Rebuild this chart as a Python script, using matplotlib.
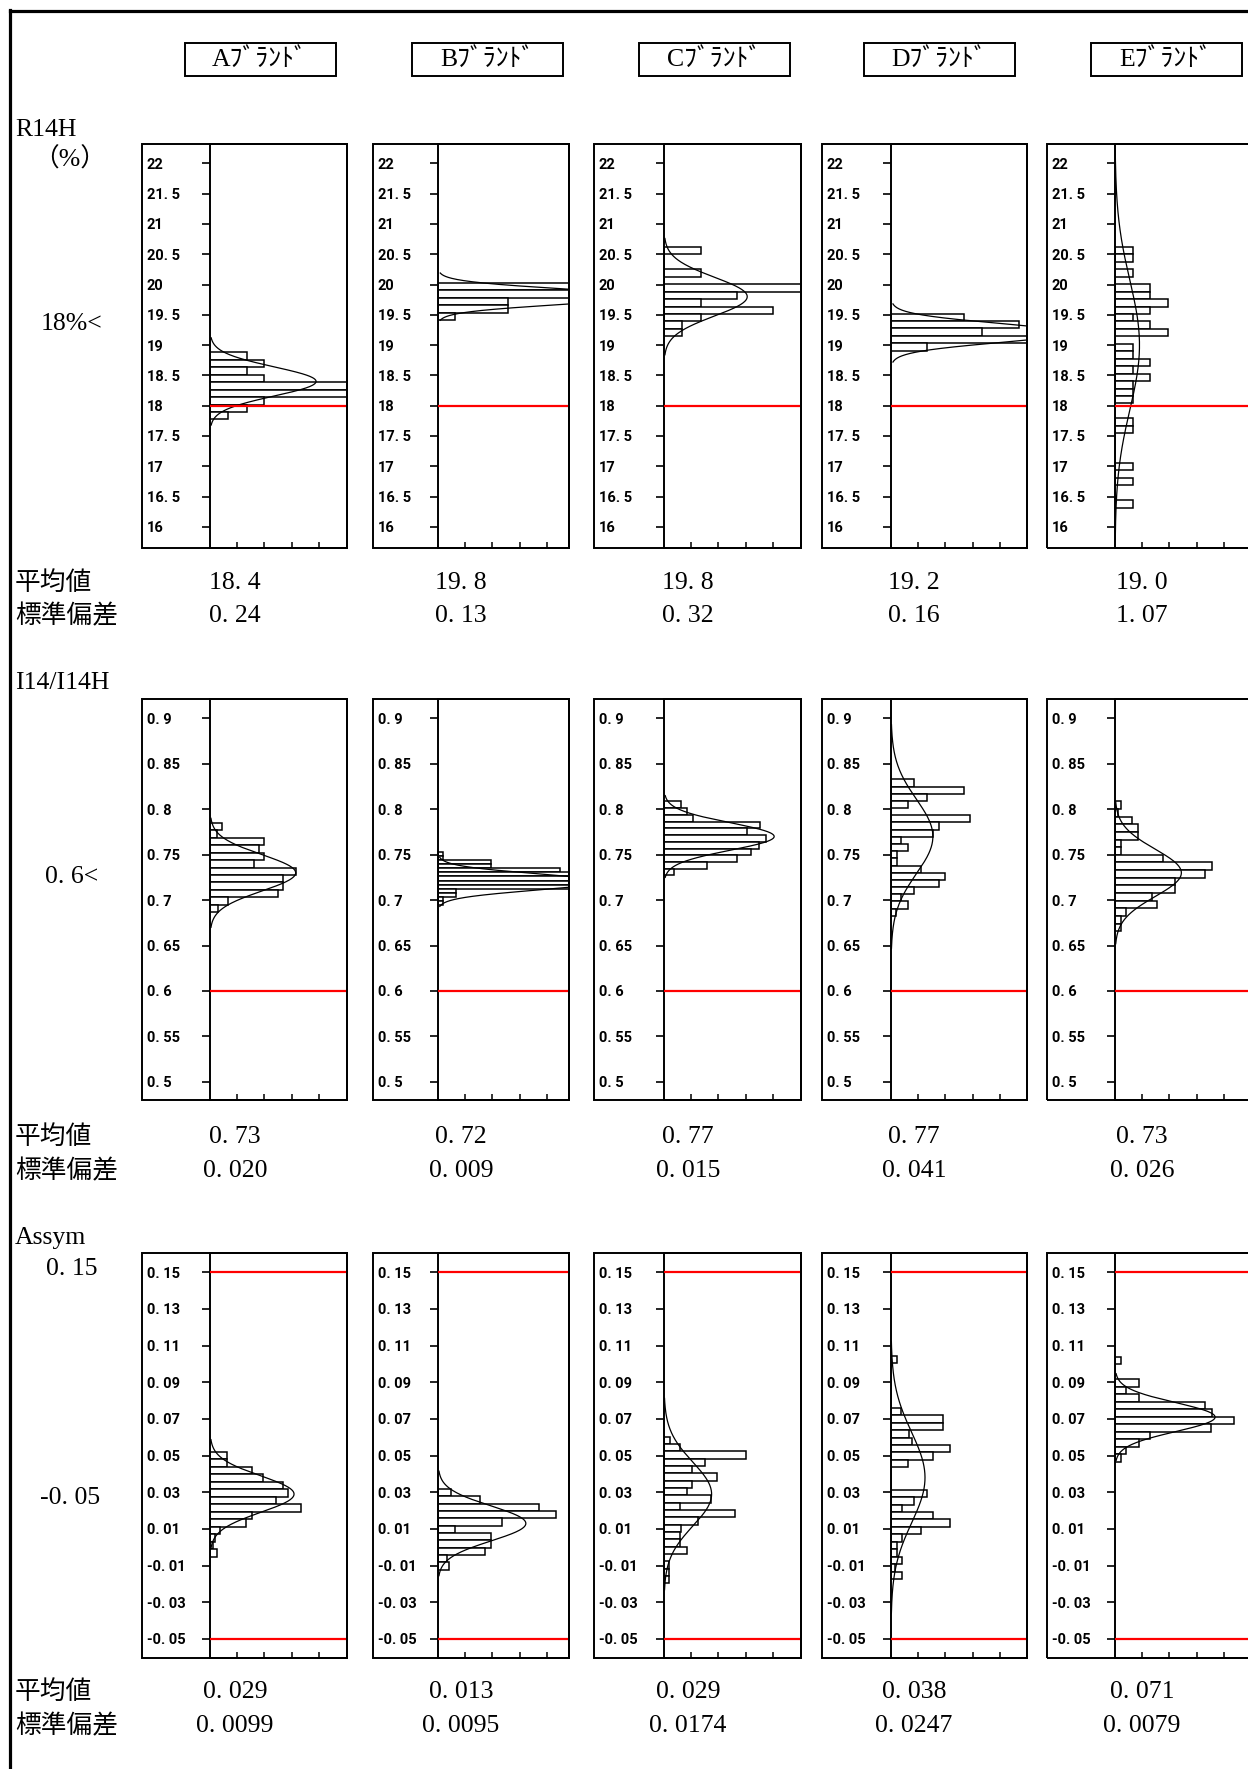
import numpy as np
import matplotlib
matplotlib.use("Agg")
import matplotlib.pyplot as plt
from matplotlib.patches import Rectangle
from matplotlib.lines import Line2D

plt.rcParams['font.family'] = ['Liberation Serif', 'Noto Sans CJK JP']

# ---- data ----
brands = ["Aﾌﾞﾗﾝﾄﾞ", "Bﾌﾞﾗﾝﾄﾞ", "Cﾌﾞﾗﾝﾄﾞ", "Dﾌﾞﾗﾝﾄﾞ", "Eﾌﾞﾗﾝﾄﾞ"]

# R14H (%)
r14h_ticks = [22, 21.5, 21, 20.5, 20, 19.5, 19, 18.5, 18, 17.5, 17, 16.5, 16]
r14h_labels = ["22", "21.5", "21", "20.5", "20", "19.5", "19", "18.5", "18", "17.5", "17", "16.5", "16"]
r14h_top = [18.88, 20.03, 20.62, 19.52, 20.62]
r14h_bin = [0.123, 0.123, 0.123, 0.123, 0.123]
r14h_counts = [
    [1.35, 2.0, 1.35, 2.0, 5.5, 5.5, 2.0, 1.35, 0.65],
    [5.5, 5.5, 2.57, 2.57, 0.62],
    [1.36, 0, 0, 1.36, 0, 5.5, 2.7, 1.36, 4.0, 1.36, 0.65, 0.65],
    [2.7, 4.7, 3.35, 5.5, 1.33],
    [0.65, 0.65, 0, 0.65, 0, 1.3, 1.3, 1.95, 1.3, 0.65, 1.3, 1.95, 0, 0.65, 0.65,
     1.3, 0.65, 1.3, 0.65, 0.65, 0.65, 0, 0, 0.65, 0.65, 0, 0, 0, 0, 0.65, 0, 0.65, 0, 0, 0.65],
]
r14h_mean = [18.4, 19.8, 19.8, 19.2, 19.0]
r14h_sd = [0.24, 0.13, 0.32, 0.16, 1.07]
r14h_peak = [3.9, 7.5, 3.06, 6.5, 0.9]

# I14/I14H
i14_ticks = [0.9, 0.85, 0.8, 0.75, 0.7, 0.65, 0.6, 0.55, 0.5]
i14_labels = ["0.9", "0.85", "0.8", "0.75", "0.7", "0.65", "0.6", "0.55", "0.5"]
i14_top = [0.785, 0.753, 0.8085, 0.8328, 0.8086]
i14_bin = [0.0082, 0.0045, 0.0074, 0.0079, 0.0084]
i14_counts = [
    [0.43, 0.25, 2.0, 1.8, 2.0, 1.6, 3.15, 2.7, 2.7, 2.5, 0.68, 0.3],
    [0.2, 0.2, 1.95, 1.95, 4.5, 4.9, 5.5, 5.5, 5.5, 0.65, 0.65, 0.2, 0.2],
    [0.62, 0.84, 1.08, 3.53, 3.06, 3.74, 3.5, 3.2, 2.67, 1.58, 0.37],
    [0.86, 2.7, 1.33, 0.64, 0, 2.9, 1.75, 1.54, 0.37, 0.64, 0.22, 0.22, 1.1, 1.97, 1.75, 0.86, 0.37, 0.64, 0.18],
    [0.22, 0.1, 0.62, 0.84, 0.84, 0.22, 0.22, 1.75, 3.56, 3.3, 2.2, 2.2, 1.36, 1.54, 0.4, 0.22, 0.22],
]
i14_mean = [0.73, 0.72, 0.77, 0.77, 0.73]
i14_sd = [0.020, 0.009, 0.015, 0.041, 0.026]
i14_peak = [3.15, 6.0, 4.05, 1.54, 2.44]

# Assym
asy_ticks = [0.15, 0.13, 0.11, 0.09, 0.07, 0.05, 0.03, 0.01, -0.01, -0.03, -0.05]
asy_labels = ["0.15", "0.13", "0.11", "0.09", "0.07", "0.05", "0.03", "0.01", "-0.01", "-0.03", "-0.05"]
asy_top = [0.0522, 0.0318, 0.0603, 0.1045, 0.104]
asy_bin = [0.0041, 0.004, 0.004, 0.00406, 0.0041]
asy_counts = [
    [0.62, 0.62, 1.56, 1.95, 2.67, 2.88, 2.44, 3.33, 1.56, 1.33, 0.37, 0.2, 0.1, 0.25],
    [0.46, 1.53, 3.7, 4.32, 2.37, 0.64, 1.94, 1.94, 1.72, 0.33, 0.4],
    [0.21, 0.58, 3.01, 1.5, 1.04, 1.94, 1.04, 0.83, 1.73, 0.58, 2.6, 1.26, 0.62, 0.58, 0.58, 0.83, 0, 0.19, 0.19, 0.19],
    [0.22, 0, 0, 0, 0, 0, 0, 0.35, 1.93, 1.93, 0.65, 0.78, 2.16, 1.54, 0.63, 0, 0, 0,
     1.31, 0.84, 0.41, 1.54, 2.16, 1.09, 0.41, 0.22, 0.22, 0.41, 0.16, 0.41],
    [0.22, 0, 0, 0.88, 0.4, 0.88, 3.3, 3.55, 4.38, 3.52, 1.3, 0.9, 0.4, 0.22],
]
asy_mean = [0.029, 0.013, 0.029, 0.038, 0.071]
asy_sd = [0.0099, 0.0095, 0.0174, 0.0247, 0.0079]
asy_peak = [3.09, 3.23, 1.75, 1.25, 3.68]

rows = [
    dict(ticks=r14h_ticks, labels=r14h_labels, top=r14h_top, bin=r14h_bin, counts=r14h_counts,
         mean=r14h_mean, sd=r14h_sd, peak=r14h_peak, red=[18], ylim=(15.65, 22.32),
         fmt=("{:.1f}", "{:.2f}")),
    dict(ticks=i14_ticks, labels=i14_labels, top=i14_top, bin=i14_bin, counts=i14_counts,
         mean=i14_mean, sd=i14_sd, peak=i14_peak, red=[0.6], ylim=(0.480, 0.9213),
         fmt=("{:.2f}", "{:.3f}")),
    dict(ticks=asy_ticks, labels=asy_labels, top=asy_top, bin=asy_bin, counts=asy_counts,
         mean=asy_mean, sd=asy_sd, peak=asy_peak, red=[0.15, -0.05], ylim=(-0.0604, 0.1605),
         fmt=("{:.3f}", "{:.4f}")),
]

# ---- layout (pixels) ----
W, H = 1248, 1769
box_left = [142, 373, 594, 822, 1047]
spine_x = [210, 438, 664, 891, 1115]
box_right = [347, 569, 801, 1027, 1252]
row_top = [144, 699, 1253]
row_bottom = [548, 1100, 1658]
stat_y = [(583, 616), (1137, 1171), (1692, 1726)]
val_x = [235, 461, 688, 914, 1142]
tick_font = ['Roboto', 'DejaVu Sans']


def fx(x):
    return x / W


def fy(y):
    return 1 - y / H


def spaced(s):
    # mimic the wide half-width spacing of the original monospaced font
    return s.replace(".", ". ")


fig = plt.figure(figsize=(W / 100, H / 100), dpi=100)

# outer frame (left and top)
fig.add_artist(Line2D([fx(10), fx(10)], [fy(10), 0], color='black', lw=2.3, transform=fig.transFigure))
fig.add_artist(Line2D([fx(10), 1], [fy(11), fy(11)], color='black', lw=2.3, transform=fig.transFigure))

# brand headers
hdr_left = [185, 412, 639, 864, 1091]
for c, name in enumerate(brands):
    l = hdr_left[c]
    fig.add_artist(Rectangle((fx(l), fy(76)), 151 / W, 33 / H, fill=False, ec='black', lw=1.4,
                             transform=fig.transFigure))
    fig.text(fx(l + 75), fy(60), name, ha='center', va='center', fontsize=18.5)

# left side labels
fig.text(fx(15), fy(130), "R14H", ha='left', va='center', fontsize=18.5)
fig.text(fx(70), fy(159), "（%）", ha='center', va='center', fontsize=18.5)
fig.text(fx(72), fy(324), "18%<", ha='center', va='center', fontsize=18.5)
fig.text(fx(15), fy(683), "I14/I14H", ha='left', va='center', fontsize=18.5)
fig.text(fx(72), fy(877), "0. 6<", ha='center', va='center', fontsize=18.5)
fig.text(fx(15), fy(1238), "Assym", ha='left', va='center', fontsize=18.5)
fig.text(fx(72), fy(1269), "0. 15", ha='center', va='center', fontsize=18.5)
fig.text(fx(70), fy(1498), "-0. 05", ha='center', va='center', fontsize=18.5)

for r, row in enumerate(rows):
    t, b = row_top[r], row_bottom[r]
    for c in range(5):
        l, s, rt = box_left[c], spine_x[c], box_right[c]
        fig.add_artist(Rectangle((fx(l), fy(b)), (rt - l) / W, (b - t) / H, fill=False,
                                 ec='black', lw=1.4, transform=fig.transFigure))
        ax = fig.add_axes([fx(s), fy(b), (rt - s) / W, (b - t) / H])
        ax.patch.set_alpha(0)
        ax.set_xlim(0, (rt - s) / 27.2)
        ax.set_ylim(*row['ylim'])

        top, bw, counts = row['top'][c], row['bin'][c], row['counts'][c]
        centers = [top - bw * (k + 0.5) for k in range(len(counts))]
        ax.barh(centers, counts, height=bw, color='white', edgecolor='black', linewidth=1.1, zorder=2)

        m, sd, pk = row['mean'][c], row['sd'][c], row['peak'][c]
        yy = np.linspace(m - 3 * sd, m + 3 * sd, 300)
        ax.plot(pk * np.exp(-0.5 * ((yy - m) / sd) ** 2), yy, color='black', lw=0.9, zorder=3)

        for v in row['red']:
            ax.axhline(v, color='#ff0000', lw=1.6, zorder=4)

        ax.set_yticks(row['ticks'])
        ax.set_yticklabels([spaced(x) for x in row['labels']], fontsize=10.5, family=tick_font,
                           fontweight='bold')
        ax.tick_params(axis='y', direction='out', length=5.8, width=1.2, pad=(s - l - 13) * 0.72)
        for lab in ax.get_yticklabels():
            lab.set_ha('left')
        ax.set_xticks([1, 2, 3, 4])
        ax.set_xticklabels([])
        ax.tick_params(axis='x', direction='in', length=4, width=1.1)
        for sp in ax.spines.values():
            sp.set_linewidth(1.4)

        fig.text(fx(val_x[c]), fy(stat_y[r][0]), spaced(row['fmt'][0].format(m)),
                 ha='center', va='center', fontsize=18.5)
        fig.text(fx(val_x[c]), fy(stat_y[r][1]), spaced(row['fmt'][1].format(sd)),
                 ha='center', va='center', fontsize=18.5)

    fig.text(fx(15), fy(stat_y[r][0]), "平均値", ha='left', va='center', fontsize=18.5, family='Noto Sans CJK JP')
    fig.text(fx(15), fy(stat_y[r][1]), "標準偏差", ha='left', va='center', fontsize=18.5, family='Noto Sans CJK JP')

fig.savefig("out.png", dpi=100)
